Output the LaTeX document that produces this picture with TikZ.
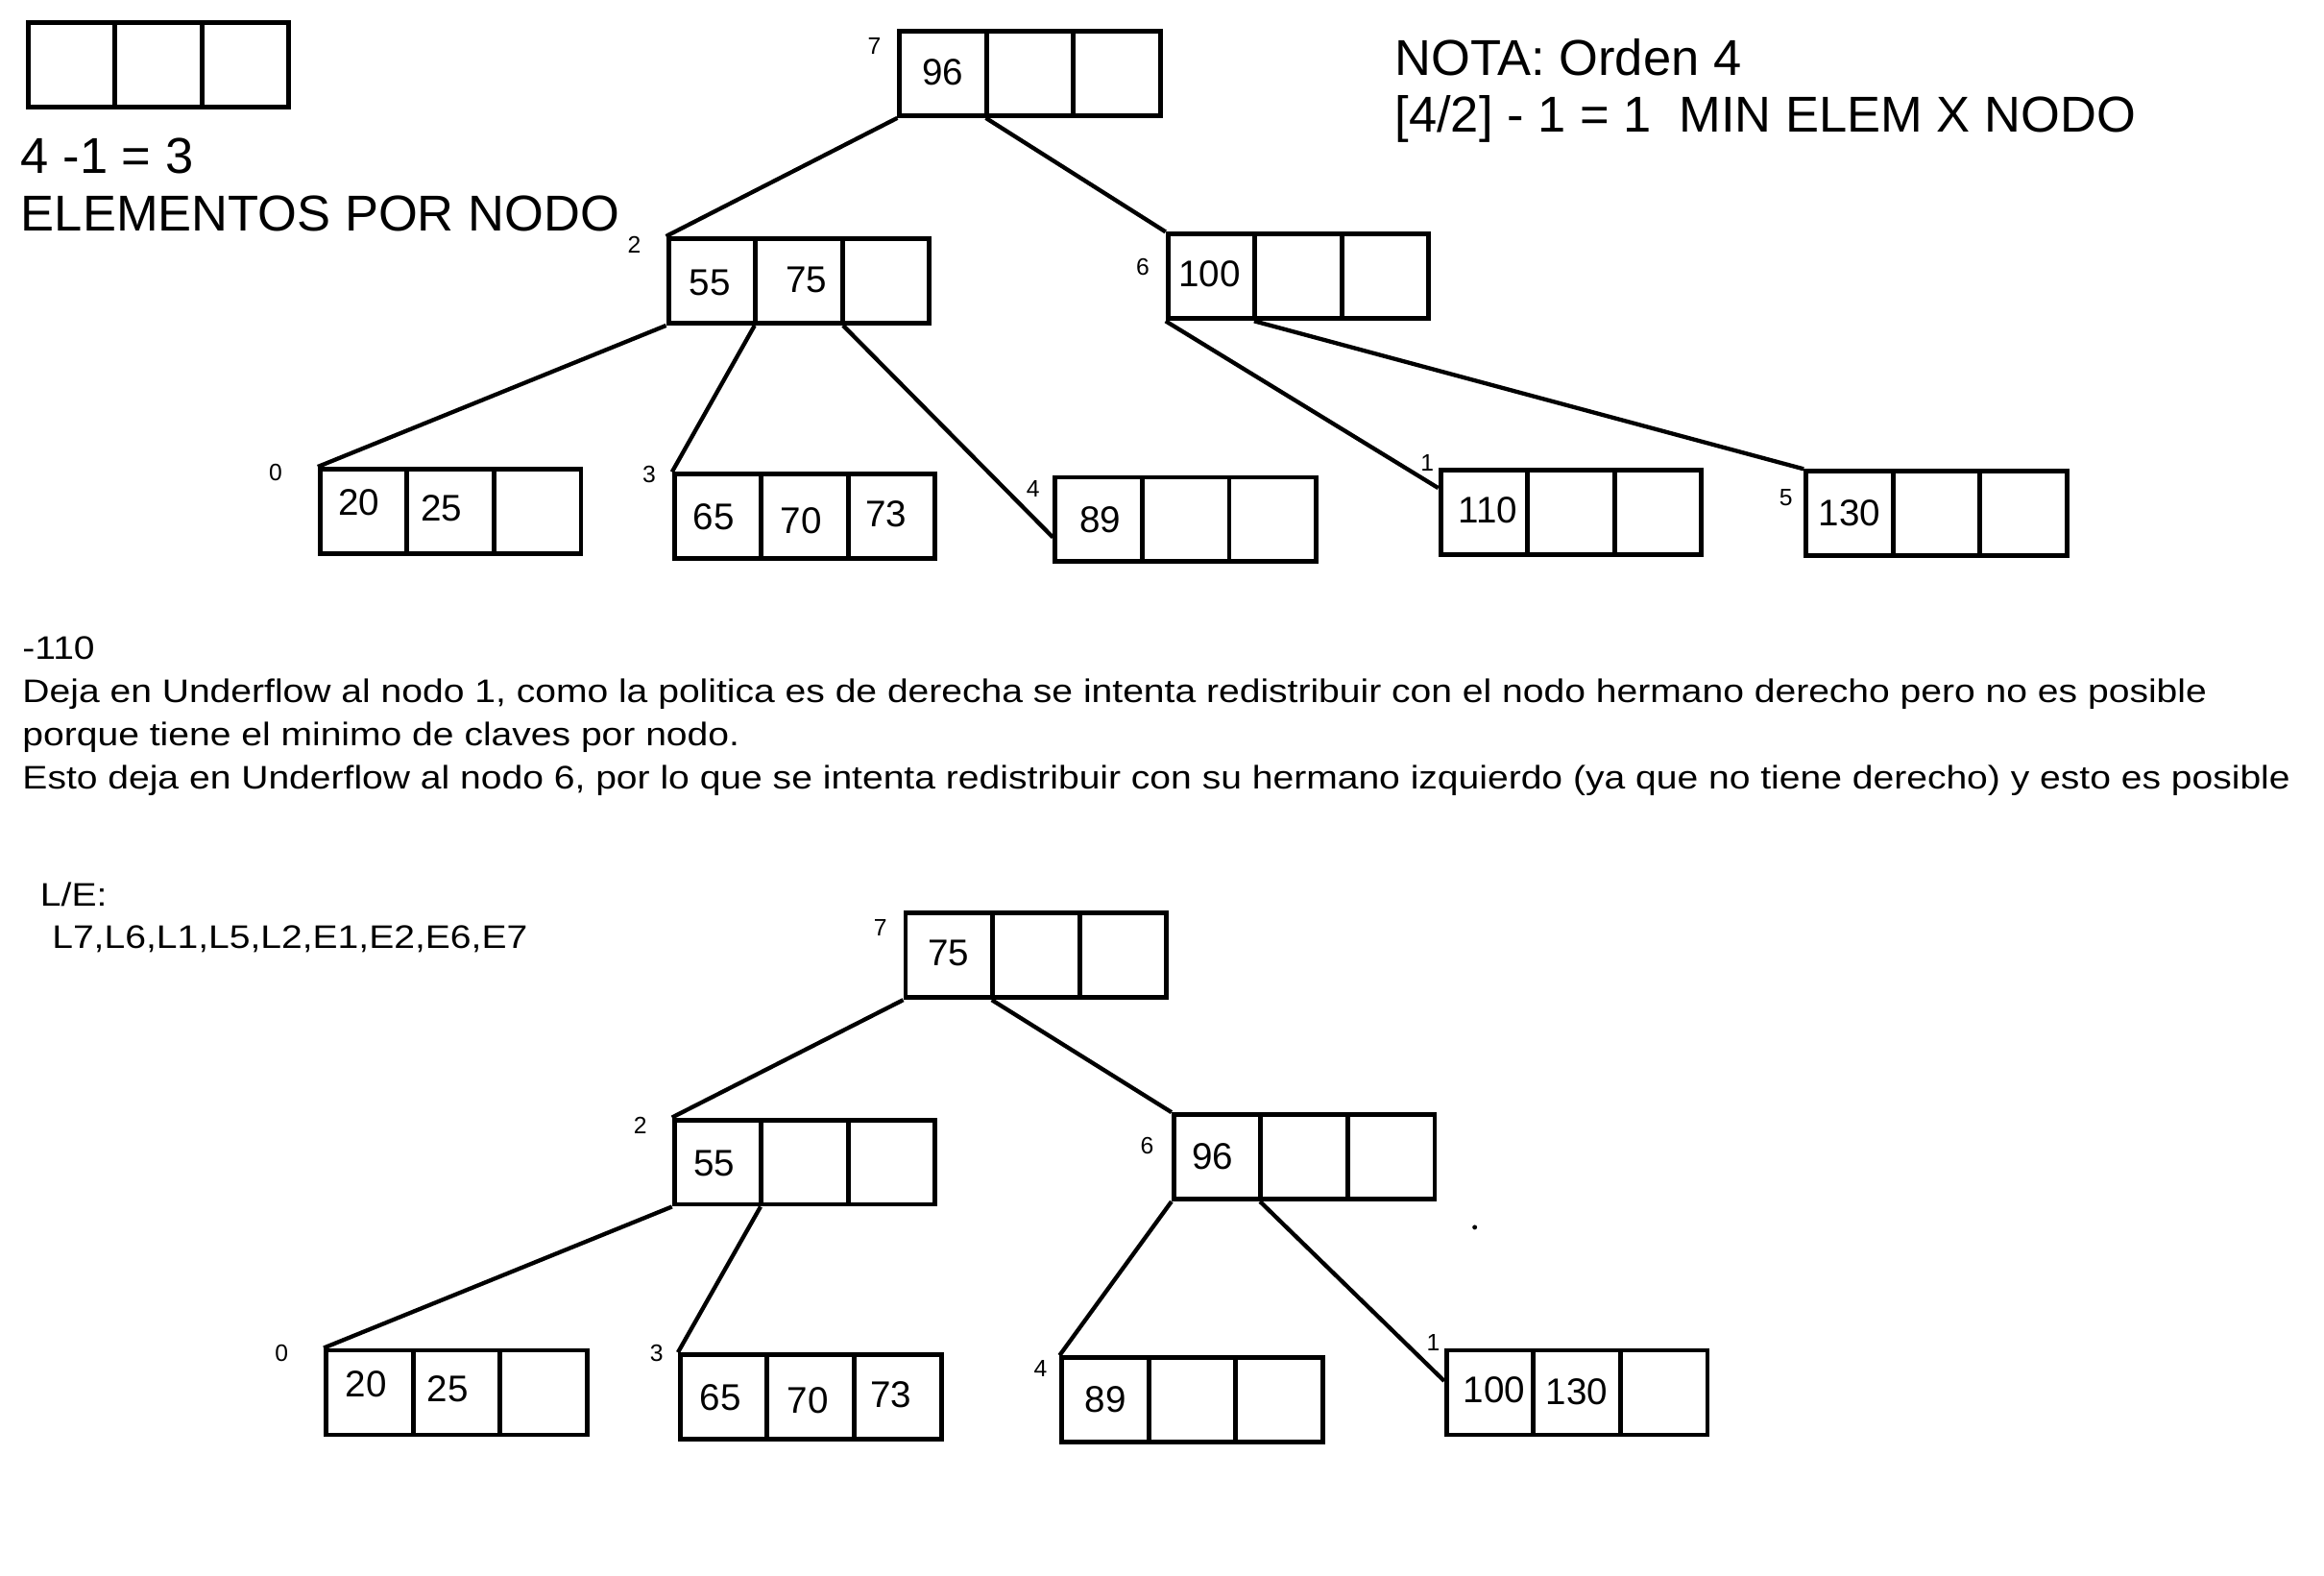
\documentclass[tikz,border=0pt]{standalone}
\usepackage{fontspec}
\setmainfont{Liberation Sans}
\newfontfamily\ancha[FakeStretch=1.15]{Liberation Sans}
\usetikzlibrary{calc}

\tikzset{
  caja/.style={draw, line width=3.2pt, minimum width=176pt, minimum height=57pt, inner sep=0pt,
    path picture={
      \draw[line width=3.2pt] ($(path picture bounding box.north west)!1/3!(path picture bounding box.north east)$)
        -- ($(path picture bounding box.south west)!1/3!(path picture bounding box.south east)$);
      \draw[line width=3.2pt] ($(path picture bounding box.north west)!2/3!(path picture bounding box.north east)$)
        -- ($(path picture bounding box.south west)!2/3!(path picture bounding box.south east)$);
    }},
  clave/.style={inner sep=0pt, font=\fontsize{25}{30}\selectfont},
  etiq/.style={inner sep=0pt, font=\fontsize{16}{19}\selectfont},
  grande/.style={inner sep=0pt, anchor=base west, font=\fontsize{34}{39}\selectfont},
  texto/.style={inner sep=0pt, anchor=base west, font=\ancha\fontsize{22}{29}\selectfont},
  rama/.style={draw, line width=2.8pt}
}

\begin{document}
\begin{tikzpicture}[x=1pt,y=-1pt]
  \useasboundingbox (0,0) rectangle (1568,1063);

  % leyenda y notas
  \node[caja] (ley) at (107,43.5) {};
  \node[grande] (ley1) at (14,117) {4 -1 = 3};
  \node[grande] (ley2) at (14,156) {ELEMENTOS POR NODO};
  \node[grande] (nota1) at (941,51) {NOTA: Orden 4};
  \node[grande] (nota2) at (941,89) {[4/2] - 1 = 1\ \ MIN ELEM X NODO};

  % arbol inicial
  \begin{scope}[every node/.style={caja}]
    \node (t7) at (695,49.5)   {};
    \node (t2) at (539,189.5)  {};
    \node (t6) at (876,186.5)  {};
    \node (t0) at (304,345)    {};
    \node (t3) at (543,348.5)  {};
    \node (t4) at (800,350.5)  {};
    \node (t1) at (1060,345.5) {};
    \node (t5) at (1306.5,346.5) {};
  \end{scope}

  \begin{scope}[every node/.style={clave}]
    \node (t7a) at (636,49)    {96};
    \node (t2a) at (479,190.5) {55};
    \node (t2b) at (544,188.5) {75};
    \node (t6a) at (816,185)   {100};
    \node (t0a) at (242,339)   {20};
    \node (t0b) at (298,343)   {25};
    \node (t3a) at (481.5,349) {65};
    \node (t3b) at (540.5,351.5) {70};
    \node (t3c) at (598,347)   {73};
    \node (t4a) at (742.5,350.5) {89};
    \node (t1a) at (1004,344)  {110};
    \node (t5a) at (1248,346)  {130};
  \end{scope}

  \begin{scope}[every node/.style={etiq}]
    \node (e7) at (590,31)  {7};
    \node (e2) at (428,165) {2};
    \node (e6) at (771,180) {6};
    \node (e0) at (186,319) {0};
    \node (e3) at (438,320) {3};
    \node (e4) at (697,330) {4};
    \node (e1) at (963,312) {1};
    \node (e5) at (1205,336) {5};
  \end{scope}

  \begin{scope}[every edge/.style={rama}]
    \path (t7.south west) edge (t2.north west);
    \path ($(t7.south west)!1/3!(t7.south east)$) edge (t6.north west);
    \path (t2.south west) edge (t0.north west);
    \path ($(t2.south west)!1/3!(t2.south east)$) edge (t3.north west);
    \path ($(t2.south west)!2/3!(t2.south east)$) edge ($(t4.north west)!0.7!(t4.south west)$);
    \path (t6.south west) edge ($(t1.north west)!0.23!(t1.south west)$);
    \path ($(t6.south west)!1/3!(t6.south east)$) edge (t5.north west);
  \end{scope}

  % explicacion
  \node[texto] (p1) at (15,445) {-110};
  \node[texto] (p2) at (15,474) {Deja en Underflow al nodo 1, como la politica es de derecha se intenta redistribuir con el nodo hermano derecho pero no es posible};
  \node[texto] (p3) at (15,503) {porque tiene el minimo de claves por nodo.};
  \node[texto] (p4) at (15,532) {Esto deja en Underflow al nodo 6, por lo que se intenta redistribuir con su hermano izquierdo (ya que no tiene derecho) y esto es posible};

  \node[texto] (le1) at (27,611) {L/E:};
  \node[texto] (le2) at (35,640) {L7,L6,L1,L5,L2,E1,E2,E6,E7};

  % arbol final
  \begin{scope}[every node/.style={caja}]
    \node (b7) at (699,644.5)   {};
    \node (b2) at (543,784)     {};
    \node (b6) at (880,780.5)   {};
    \node (b0) at (308,939.5)   {};
    \node (b3) at (547,942.5)   {};
    \node (b4) at (804.5,944.5) {};
    \node (b1) at (1064,939.5)  {};
  \end{scope}

  \begin{scope}[every node/.style={clave}]
    \node (b7a) at (640,643)  {75};
    \node (b2a) at (482,785)  {55};
    \node (b6a) at (818,780)  {96};
    \node (b0a) at (247,934)  {20};
    \node (b0b) at (302,937)  {25};
    \node (b3a) at (486,943)  {65};
    \node (b3b) at (545,945)  {70};
    \node (b3c) at (601,941)  {73};
    \node (b4a) at (746,944)  {89};
    \node (b1a) at (1008,938) {100};
    \node (b1b) at (1064,939) {130};
  \end{scope}

  \begin{scope}[every node/.style={etiq}]
    \node (f7) at (594,626) {7};
    \node (f2) at (432,759) {2};
    \node (f6) at (774,773) {6};
    \node (f0) at (190,913) {0};
    \node (f3) at (443,913) {3};
    \node (f4) at (702,923) {4};
    \node (f1) at (967,906) {1};
  \end{scope}

  \begin{scope}[every edge/.style={rama}]
    \path (b7.south west) edge (b2.north west);
    \path ($(b7.south west)!1/3!(b7.south east)$) edge (b6.north west);
    \path (b2.south west) edge (b0.north west);
    \path ($(b2.south west)!1/3!(b2.south east)$) edge (b3.north west);
    \path (b6.south west) edge (b4.north west);
    \path ($(b6.south west)!1/3!(b6.south east)$) edge ($(b1.north west)!0.37!(b1.south west)$);
  \end{scope}

  \fill (995,828) circle (1.6pt);
\end{tikzpicture}
\end{document}
